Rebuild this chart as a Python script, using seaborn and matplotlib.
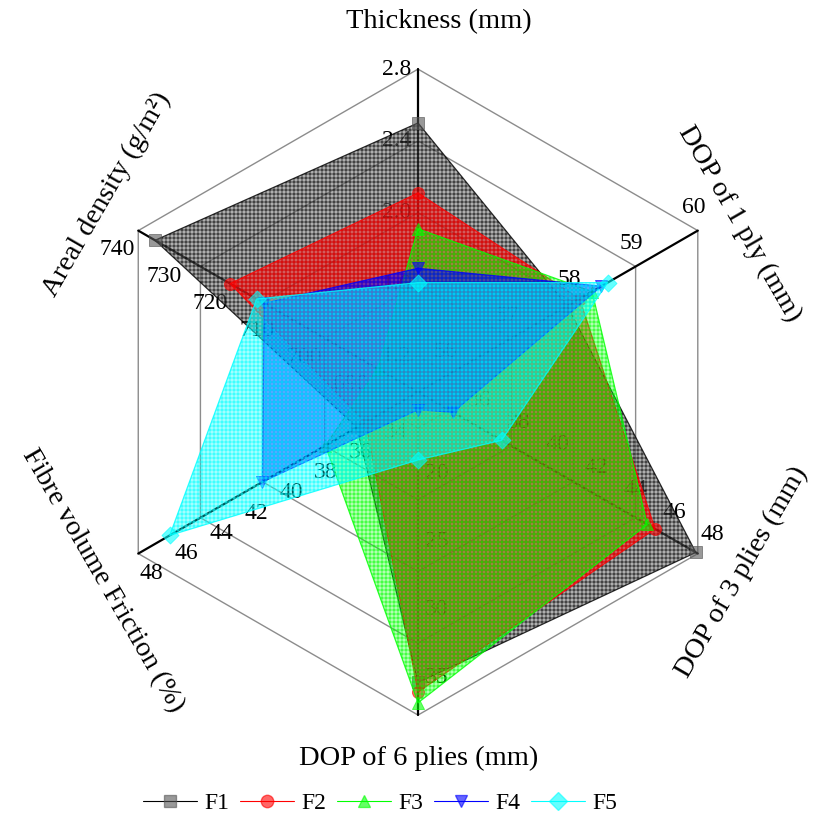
import numpy as np
import pandas as pd
import matplotlib
matplotlib.use("Agg")
import matplotlib.pyplot as plt
from matplotlib.lines import Line2D
import seaborn as sns

# ---- radar axes (clockwise from the top) ----
axis_titles = ["Thickness (mm)", "DOP of 1 ply (mm)", "DOP of 3 plies (mm)",
               "DOP of 6 plies (mm)", "Fibre volume Friction (%)",
               "Areal density (g/m\u00b2)"]
axis_min = [1.0, 55.5, 33.6, 14.0, 32.0, 680.0]
axis_max = [2.8, 60.0, 48.0, 37.8, 48.0, 740.0]
axis_ticks = [
    [1.2, 1.6, 2.0, 2.4, 2.8],
    [56, 57, 58, 59, 60],
    [36, 38, 40, 42, 44, 46, 48],
    [20, 25, 30, 35],
    [34, 36, 38, 40, 42, 44, 46, 48],
    [690, 700, 710, 720, 730, 740],
]
tick_formats = ["{:.1f}", "{:.0f}", "{:.0f}", "{:.0f}", "{:.0f}", "{:.0f}"]

# ---- fabric series ----
series_names = ["F1", "F2", "F3", "F4", "F5"]
F1 = [2.50, 57.9, 47.9, 35.4, 35.5, 736.4]
F2 = [2.11, 58.1, 45.8, 36.1, 35.0, 720.3]
F3 = [1.91, 58.3, 45.4, 36.9, 37.3, 688.6]
F4 = [1.69, 58.45, 35.4, 15.3, 40.9, 713.0]
F5 = [1.61, 58.55, 37.9, 19.0, 46.2, 714.6]
series_values = [F1, F2, F3, F4, F5]

line_colors = ["#000000", "#ff0000", "#00ff00", "#0000ff", "#00ffff"]
face_colors = ["#6e6e6e", "#ff0000", "#00ff00", "#0000ff", "#00ffff"]
marker_colors = ["#555555", "#ff0000", "#00ff00", "#0000ff", "#00ffff"]
face_alpha = [0.55, 0.48, 0.3, 0.5, 0.36]
markers = ["s", "o", "^", "v", "D"]

# 96 dpi keeps the mesh hatch on whole pixels (24 lines per inch -> 4 px)
DPI = 96
PT = 100 / DPI  # keeps type sizes as they would be at 100 dpi

sns.set_theme(style="white")
plt.rcParams["font.family"] = ["Liberation Serif", "DejaVu Serif"]
plt.rcParams["text.color"] = "black"
plt.rcParams["hatch.linewidth"] = 0.55 * PT

n_axes = len(axis_titles)
angles = np.deg2rad(90 - 60 * np.arange(n_axes))
ux, uy = np.cos(angles), np.sin(angles)
PX = 1 / 323.0  # one pixel in data units


def to_xy(k, v):
    r = (v - axis_min[k]) / (axis_max[k] - axis_min[k])
    return r * ux[k], r * uy[k]


fig = plt.figure(figsize=(827 / DPI, 821 / DPI), dpi=DPI)
ax = fig.add_axes([0, 0, 1, 1])
ax.set_xlim(-1.294, 1.266)
ax.set_ylim(-1.328, 1.214)
ax.axis("off")

# concentric hexagon grid, spaced on the thickness ticks
grid_r = [(t - axis_min[0]) / (axis_max[0] - axis_min[0]) for t in axis_ticks[0]]
for r in grid_r:
    hx = np.append(r * ux, r * ux[0])
    hy = np.append(r * uy, r * uy[0])
    ax.plot(hx, hy, color="#8c8c8c", lw=1.0 * PT, zorder=1)

# spokes
for k in range(n_axes):
    ax.plot([0, ux[k]], [0, uy[k]], color="black", lw=1.6 * PT, zorder=1.5)

# tick labels beside each spoke (offsets in pixels: right, up)
label_offsets = [(-21, 0), (-4, 23), (15, 19), (19, 0), (13, -20), (-21, -19)]
for k in range(n_axes):
    ox, oy = label_offsets[k][0] * PX, label_offsets[k][1] * PX
    for t in axis_ticks[k]:
        x, y = to_xy(k, t)
        ax.text(x + ox, y + oy, tick_formats[k].format(t), fontsize=17 * PT,
                ha="center", va="center", color="black", zorder=2)

# filled polygons, each with its own markers
for i, (name, vals) in enumerate(zip(series_names, series_values)):
    pts = np.array([to_xy(k, v) for k, v in enumerate(vals)])
    z = 3 + i
    ax.fill(pts[:, 0], pts[:, 1], facecolor=face_colors[i], alpha=face_alpha[i],
            edgecolor="none", zorder=z)
    ax.fill(pts[:, 0], pts[:, 1], facecolor="none", hatch="++++",
            edgecolor=line_colors[i], alpha=0.8, lw=0, zorder=z + 0.1)
    cx = np.append(pts[:, 0], pts[0, 0])
    cy = np.append(pts[:, 1], pts[0, 1])
    ax.plot(cx, cy, color=line_colors[i], lw=0.9 * PT, alpha=0.8, zorder=z + 0.2)
    df = pd.DataFrame({"x": pts[:, 0], "y": pts[:, 1]})
    sns.scatterplot(data=df, x="x", y="y", marker=markers[i], s=75 * PT ** 2,
                    color=marker_colors[i], alpha=0.6, edgecolor=None,
                    legend=False, ax=ax, zorder=z + 0.3)

# axis titles
title_pos = [(0.065, 1.146), (0.994, 0.520), (1.003, -0.557),
             (0.003, -1.133), (-0.975, -0.585), (-0.963, 0.613)]
title_rot = [0, -60, 60, 0, -60, 60]
for k in range(n_axes):
    ax.text(title_pos[k][0], title_pos[k][1], axis_titles[k], fontsize=20.5 * PT,
            ha="center", va="center", rotation=title_rot[k],
            rotation_mode="anchor", zorder=20)

handles = [Line2D([0], [0], color=line_colors[i], lw=0.8 * PT, marker=markers[i],
                  markersize=9 * PT,
                  markerfacecolor=matplotlib.colors.to_rgba(marker_colors[i], 0.6),
                  markeredgecolor=matplotlib.colors.to_rgba(marker_colors[i], 0.6))
           for i in range(len(series_names))]
fig.legend(handles, series_names, loc="center",
           bbox_to_anchor=(380 / 827, 1 - 803 / 821),
           ncol=5, frameon=False, fontsize=17 * PT, handlelength=2.3,
           handletextpad=0.3, columnspacing=0.45)

fig.savefig("out.png", dpi=DPI)
